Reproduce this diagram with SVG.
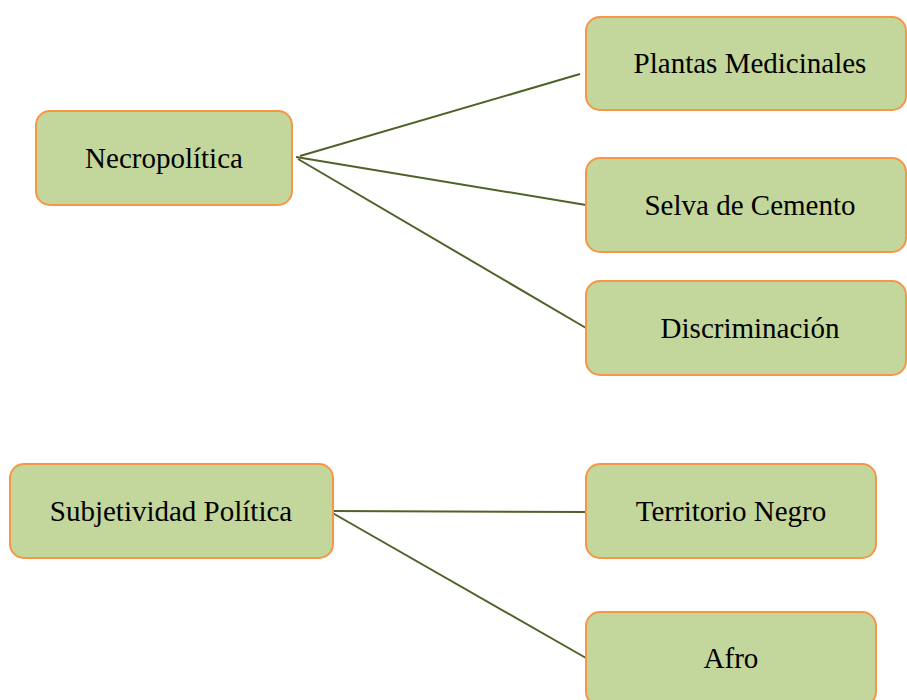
<svg xmlns="http://www.w3.org/2000/svg" width="907" height="700" viewBox="0 0 907 700">
<style>
.box{fill:#C3D69B;stroke:#F79646;stroke-width:2}
.lbl{font-family:"Liberation Serif","Times New Roman",serif;font-size:29px;fill:#000;text-anchor:middle}
.conn{stroke:#4F6228;stroke-width:2;fill:none}
</style>
<rect width="907" height="700" fill="#fff"/>
<g id="connectors">
<line class="conn" x1="300" y1="156" x2="580" y2="74"/>
<line class="conn" x1="296" y1="157" x2="586" y2="205"/>
<line class="conn" x1="298" y1="159" x2="586" y2="328"/>
<line class="conn" x1="329" y1="511" x2="586" y2="512"/>
<line class="conn" x1="329" y1="511" x2="586" y2="658"/>
</g>
<g id="necropolitica">
<rect class="box" x="36" y="111" width="256" height="94" rx="14"/>
<text class="lbl" x="164" y="168">Necropolítica</text>
</g>
<g id="plantas">
<rect class="box" x="586" y="17" width="320" height="93" rx="14"/>
<text class="lbl" x="750" y="73">Plantas Medicinales</text>
</g>
<g id="selva">
<rect class="box" x="586" y="158" width="320" height="94" rx="14"/>
<text class="lbl" x="750" y="215">Selva de Cemento</text>
</g>
<g id="discriminacion">
<rect class="box" x="586" y="281" width="320" height="94" rx="14"/>
<text class="lbl" x="750" y="338">Discriminación</text>
</g>
<g id="subjetividad">
<rect class="box" x="10" y="464" width="323" height="94" rx="14"/>
<text class="lbl" x="171" y="521">Subjetividad Política</text>
</g>
<g id="territorio">
<rect class="box" x="586" y="464" width="290" height="94" rx="14"/>
<text class="lbl" x="731" y="521">Territorio Negro</text>
</g>
<g id="afro">
<rect class="box" x="586" y="612" width="290" height="94" rx="14"/>
<text class="lbl" x="731" y="668">Afro</text>
</g>
</svg>
